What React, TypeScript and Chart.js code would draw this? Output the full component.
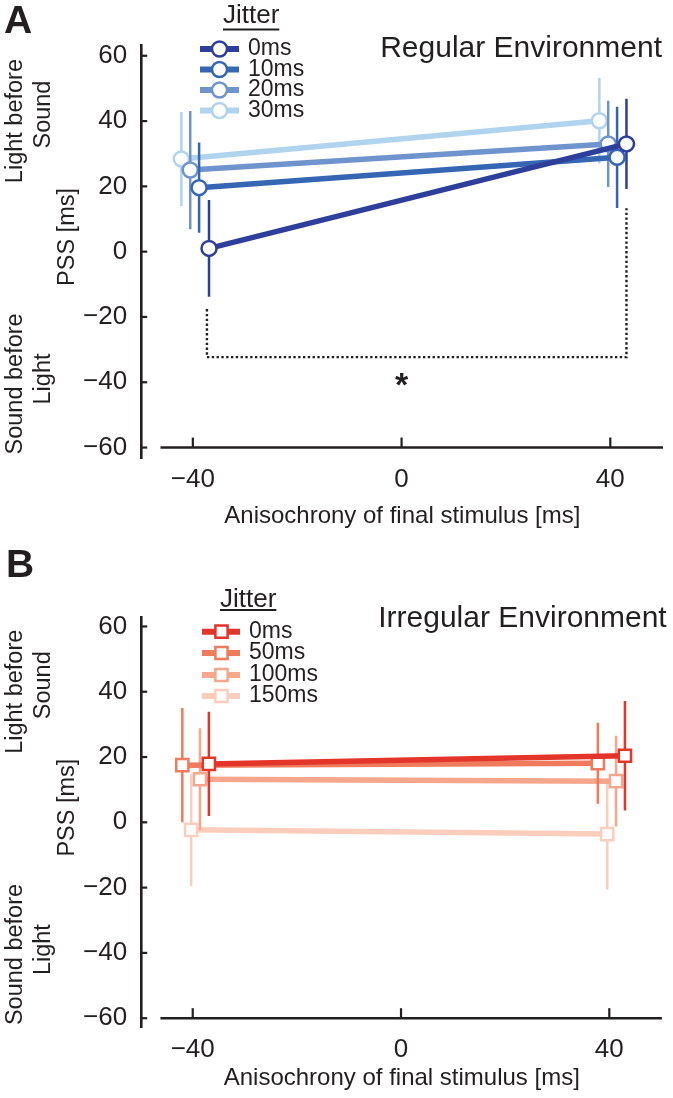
import React, { useEffect, useRef } from 'react';
import { Chart, registerables } from 'chart.js';

Chart.register(...registerables);

const INK = '#231f20';
const FONT = "'Liberation Sans', Arial, Helvetica, sans-serif";

// ---------- shared axes ----------
const xTicks = [-40, 0, 40];
const yTicks = [-60, -40, -20, 0, 20, 40, 60];
const xAxisTitle = 'Anisochrony of final stimulus [ms]';
const yTitleTop = ['Light before', 'Sound'];
const yTitleMid = 'PSS [ms]';
const yTitleBottom = ['Sound before', 'Light'];
const legendTitle = 'Jitter';

// ---------- panel A : regular environment ----------
const regularTitle = 'Regular Environment';
const regularLabels = ['0ms', '10ms', '20ms', '30ms'];
const regularColors = ['#2e3f9b', '#3566b3', '#6f93cc', '#b0d4ee'];
const regularX = [[-36.9, 43.1], [-38.8, 41.3], [-40.5, 39.6], [-42.2, 37.9]];
const regularPSS = [[1.0, 33.0], [19.6, 28.9], [25.0, 33.0], [28.4, 40.1]];
const regularErr = [[14.8, 13.8], [13.8, 15.5], [18.1, 13.2], [14.4, 13.1]];
const sigBracketX = [-37.3, 43.1];
const sigBracketTops = [-17.6, 13.3];
const sigBracketBottom = -32.3;
const sigStar = [0, -38.3];

// ---------- panel B : irregular environment ----------
const irregularTitle = 'Irregular Environment';
const irregularLabels = ['0ms', '50ms', '100ms', '150ms'];
const irregularColors = ['#e4352b', '#ef7a5c', '#f5a68b', '#fbcdbd'];
const irregularX = [[-36.9, 43.0], [-42.0, 37.8], [-38.6, 41.3], [-40.3, 39.6]];
const irregularPSS = [[17.9, 20.4], [17.5, 18.1], [13.2, 12.6], [-2.3, -3.6]];
const irregularErr = [[16.0, 16.8], [17.5, 12.4], [15.6, 13.9], [17.2, 17.0]];

const fmt = (v: number) => (v < 0 ? '\u2212' + Math.abs(v) : String(v));

type Spec = {
  letter: string;
  title: string;
  labels: string[];
  colors: string[];
  xs: number[][];
  ys: number[][];
  errs: number[][];
  marker: 'circle' | 'rect';
  bracket: boolean;
  height: number;
  yMin: number;
  yMax: number;
  padTop: number;
  padBottom: number;
  xAxisH: number;
  xTickPad: number;
  letterPos: [number, number];
  titlePos: [number, number];
  legend: { tx: number; ty: number; uy: number; s1: number; s2: number; mx: number; textX: number; rows: number[] };
};

const specA: Spec = {
  letter: 'A',
  title: regularTitle,
  labels: regularLabels,
  colors: regularColors,
  xs: regularX,
  ys: regularPSS,
  errs: regularErr,
  marker: 'circle',
  bracket: true,
  height: 540,
  yMin: -63.2,
  yMax: 63.3,
  padTop: 45,
  padBottom: 9.6,
  xAxisH: 72.4,
  xTickPad: 6.4,
  letterPos: [4, 33],
  titlePos: [662, 56.7],
  legend: { tx: 223, ty: 23.3, uy: 29.5, s1: 200, s2: 239, mx: 219.5, textX: 248, rows: [49, 69.5, 90, 110.5] },
};

const specB: Spec = {
  letter: 'B',
  title: irregularTitle,
  labels: irregularLabels,
  colors: irregularColors,
  xs: irregularX,
  ys: irregularPSS,
  errs: irregularErr,
  marker: 'rect',
  bracket: false,
  height: 558,
  yMin: -62.7,
  yMax: 62.9,
  padTop: 77,
  padBottom: 5.6,
  xAxisH: 65.4,
  xTickPad: 7.4,
  letterPos: [6, 37],
  titlePos: [666.7, 86.7],
  legend: { tx: 220, ty: 66.7, uy: 70, s1: 202, s2: 240, mx: 221.5, textX: 249, rows: [91.7, 113, 135, 156] },
};

function rotText(ctx: CanvasRenderingContext2D, text: string, bx: number, cy: number) {
  ctx.save();
  ctx.translate(bx, cy);
  ctx.rotate(-Math.PI / 2);
  ctx.textAlign = 'center';
  ctx.textBaseline = 'alphabetic';
  ctx.fillText(text, 0, 0);
  ctx.restore();
}

function decorPlugin(spec: Spec) {
  return {
    id: 'decor',
    afterDraw(chart: any) {
      const { ctx, chartArea } = chart;
      const xs = chart.scales.x;
      const ys = chart.scales.y;
      ctx.save();
      ctx.strokeStyle = INK;
      ctx.fillStyle = INK;
      ctx.lineCap = 'butt';

      // x axis line at y = -60 with inward ticks
      const yAx = ys.getPixelForValue(yTicks[0]);
      ctx.lineWidth = 2.6;
      ctx.beginPath();
      ctx.moveTo(xs.getPixelForValue(-46.2), yAx);
      ctx.lineTo(chartArea.right, yAx);
      ctx.stroke();
      ctx.lineWidth = 2.2;
      xTicks.forEach((v) => {
        const px = xs.getPixelForValue(v);
        ctx.beginPath();
        ctx.moveTo(px, yAx);
        ctx.lineTo(px, yAx - 10);
        ctx.stroke();
      });
      yTicks.forEach((v) => {
        const py = ys.getPixelForValue(v);
        ctx.beginPath();
        ctx.moveTo(chartArea.left, py);
        ctx.lineTo(chartArea.left + 5.5, py);
        ctx.stroke();
      });

      // rotated y titles
      ctx.font = `23.5px ${FONT}`;
      rotText(ctx, yTitleTop[0], 21.5, ys.getPixelForValue(40));
      rotText(ctx, yTitleTop[1], 50, ys.getPixelForValue(42));
      rotText(ctx, yTitleMid, 73.5, ys.getPixelForValue(4.5));
      rotText(ctx, yTitleBottom[0], 21.5, ys.getPixelForValue(-40.5));
      rotText(ctx, yTitleBottom[1], 50, ys.getPixelForValue(-39));

      // panel letter
      ctx.font = `bold 39px ${FONT}`;
      ctx.textAlign = 'left';
      ctx.textBaseline = 'alphabetic';
      ctx.fillText(spec.letter, spec.letterPos[0], spec.letterPos[1]);

      // panel title
      ctx.font = `30px ${FONT}`;
      ctx.textAlign = 'right';
      ctx.fillText(spec.title, spec.titlePos[0], spec.titlePos[1]);

      // legend
      const lg = spec.legend;
      ctx.font = `26px ${FONT}`;
      ctx.textAlign = 'left';
      ctx.fillText(legendTitle, lg.tx, lg.ty);
      const w = ctx.measureText(legendTitle).width;
      ctx.lineWidth = 1.8;
      ctx.beginPath();
      ctx.moveTo(lg.tx, lg.uy);
      ctx.lineTo(lg.tx + w, lg.uy);
      ctx.stroke();
      ctx.font = `23px ${FONT}`;
      ctx.textBaseline = 'middle';
      spec.labels.forEach((lab, i) => {
        const ry = lg.rows[i];
        const col = spec.colors[i];
        ctx.strokeStyle = col;
        ctx.lineWidth = 6;
        ctx.beginPath();
        ctx.moveTo(lg.s1, ry);
        ctx.lineTo(lg.s2, ry);
        ctx.stroke();
        ctx.lineWidth = 2.5;
        ctx.fillStyle = '#ffffff';
        ctx.beginPath();
        if (spec.marker === 'circle') {
          ctx.arc(lg.mx, ry, 7.5, 0, Math.PI * 2);
        } else {
          ctx.rect(lg.mx - 6.1, ry - 6.1, 12.2, 12.2);
        }
        ctx.fill();
        ctx.stroke();
        ctx.fillStyle = INK;
        ctx.fillText(lab, lg.textX, ry);
      });

      // significance star
      if (spec.bracket) {
        ctx.font = `bold 34px ${FONT}`;
        ctx.textAlign = 'center';
        ctx.textBaseline = 'alphabetic';
        ctx.fillStyle = INK;
        ctx.fillText('*', xs.getPixelForValue(sigStar[0]), ys.getPixelForValue(sigStar[1]) + 19);
      }
      ctx.restore();
    },
  };
}

function buildDatasets(spec: Spec) {
  const ds: any[] = [];
  spec.xs.forEach((xv, i) => {
    const color = spec.colors[i];
    xv.forEach((x, j) => {
      const y = spec.ys[i][j];
      const e = spec.errs[i][j];
      ds.push({
        data: [{ x, y: y - e }, { x, y: y + e }],
        showLine: true,
        borderColor: color,
        borderWidth: 2.5,
        pointRadius: 0,
        order: 2 * i + 1,
      });
    });
    ds.push({
      label: spec.labels[i],
      data: xv.map((x, j) => ({ x, y: spec.ys[i][j] })),
      showLine: true,
      borderColor: color,
      borderWidth: 5.5,
      pointStyle: spec.marker,
      pointRadius: spec.marker === 'circle' ? 7.5 : 8.6,
      pointBackgroundColor: '#ffffff',
      pointBorderColor: color,
      pointBorderWidth: 2.5,
      order: 2 * i,
    });
  });
  if (spec.bracket) {
    ds.push({
      data: [
        { x: sigBracketX[0], y: sigBracketTops[0] },
        { x: sigBracketX[0], y: sigBracketBottom },
        { x: sigBracketX[1], y: sigBracketBottom },
        { x: sigBracketX[1], y: sigBracketTops[1] },
      ],
      showLine: true,
      borderColor: INK,
      borderWidth: 2.4,
      borderDash: [2.4, 2.4],
      pointRadius: 0,
      order: 100,
    });
  }
  return ds;
}

function Panel({ spec, top }: { spec: Spec; top: number }) {
  const ref = useRef<HTMLCanvasElement | null>(null);
  useEffect(() => {
    if (!ref.current) return;
    const tickFont = { family: FONT, size: 26 };
    const titleFont = { family: FONT, size: 24 };
    const chart = new Chart(ref.current, {
      type: 'scatter',
      data: { datasets: buildDatasets(spec) },
      options: {
        responsive: false,
        maintainAspectRatio: false,
        devicePixelRatio: 1,
        animation: false,
        events: [],
        layout: { padding: { left: 81.7, right: 6, top: spec.padTop, bottom: spec.padBottom } },
        plugins: { legend: { display: false }, tooltip: { enabled: false } },
        scales: {
          x: {
            type: 'linear',
            min: -49.8,
            max: 50.1,
            afterBuildTicks: (s: any) => {
              s.ticks = xTicks.map((v) => ({ value: v }));
            },
            afterFit: (s: any) => {
              s.height = spec.xAxisH;
            },
            grid: { drawOnChartArea: false, drawTicks: false },
            border: { display: false },
            ticks: {
              padding: spec.xTickPad,
              font: tickFont,
              color: INK,
              autoSkip: false,
              maxRotation: 0,
              callback: (v: any) => fmt(Number(v)),
            },
            title: {
              display: true,
              text: xAxisTitle,
              font: titleFont,
              color: INK,
              padding: { top: 0, bottom: 0 },
            },
          },
          y: {
            type: 'linear',
            min: spec.yMin,
            max: spec.yMax,
            afterBuildTicks: (s: any) => {
              s.ticks = yTicks.map((v) => ({ value: v }));
            },
            afterFit: (s: any) => {
              s.width = 60;
            },
            grid: { drawOnChartArea: false, drawTicks: false },
            border: { display: true, color: INK, width: 2.6 },
            ticks: {
              padding: 14.5,
              font: tickFont,
              color: INK,
              autoSkip: false,
              callback: (v: any) => fmt(Number(v)),
            },
          },
        },
      },
      plugins: [decorPlugin(spec)],
    } as any);
    return () => chart.destroy();
  }, [spec]);
  return (
    <canvas
      ref={ref}
      width={673}
      height={spec.height}
      style={{ position: 'absolute', left: 0, top, width: 673, height: spec.height, display: 'block' }}
    />
  );
}

export default function App() {
  return (
    <div style={{ position: 'absolute', left: 0, top: 0, width: 673, height: 1098, background: '#ffffff' }}>
      <Panel spec={specA} top={0} />
      <Panel spec={specB} top={540} />
    </div>
  );
}
